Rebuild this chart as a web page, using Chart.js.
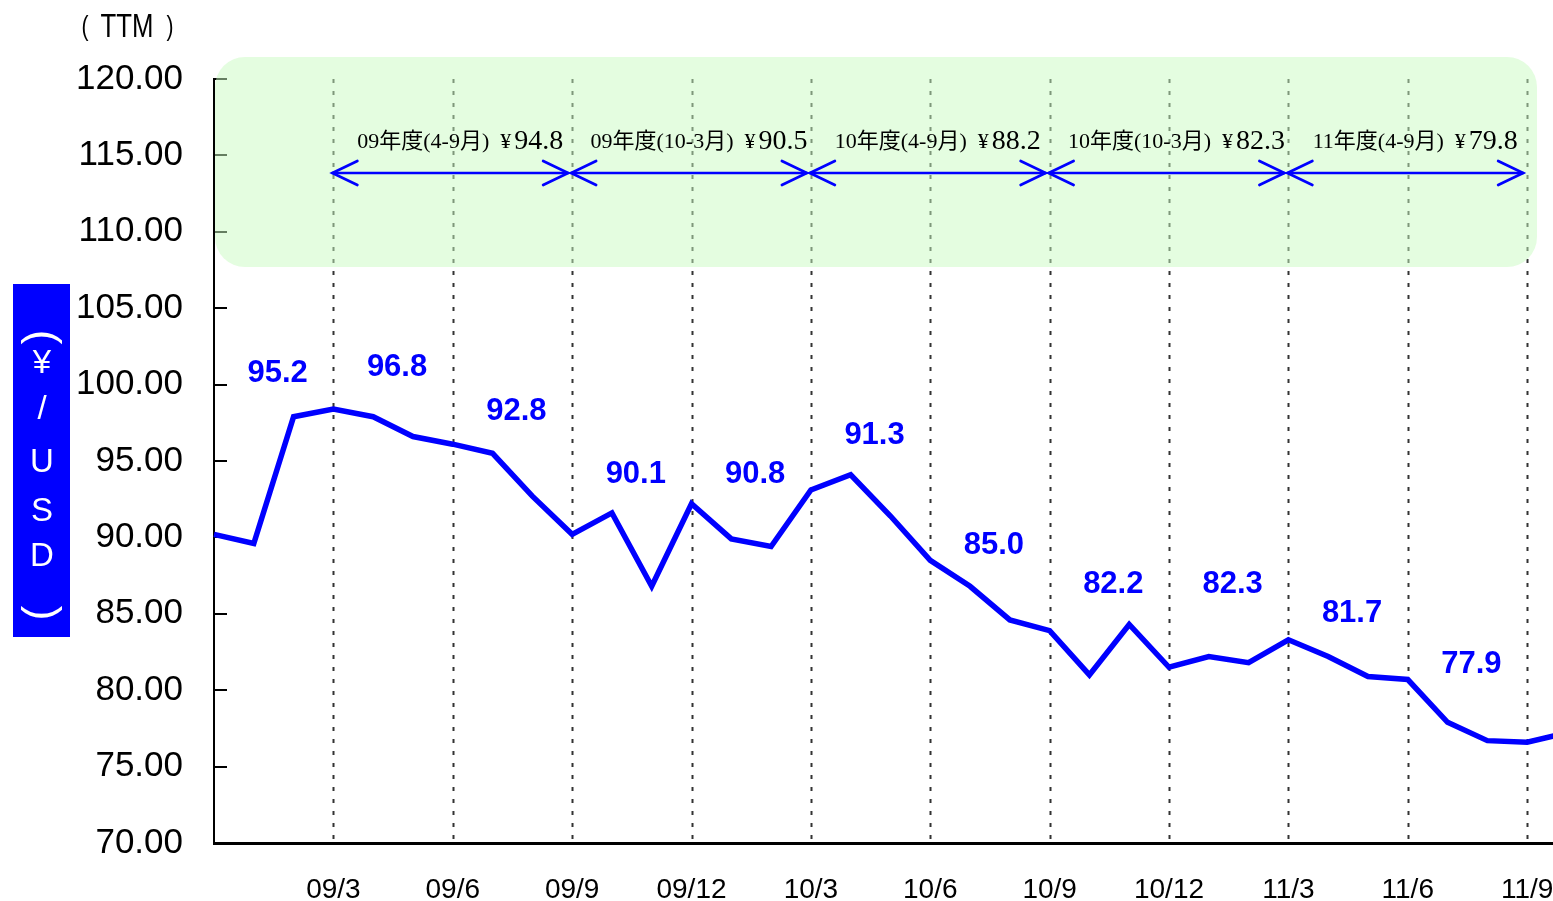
<!DOCTYPE html>
<html><head><meta charset="utf-8">
<script src="https://cdn.jsdelivr.net/npm/chart.js@4.4.0/dist/chart.umd.min.js"></script>
<style>html,body{margin:0;padding:0;background:#fff;overflow:hidden}#wrap{width:1553px;height:901px;position:relative}</style>
</head><body><div id="wrap"><canvas id="c" width="1553" height="901"></canvas></div>
<script>
// ---- data ----
const months = ['08/12','09/1','09/2','09/3','09/4','09/5','09/6','09/7','09/8','09/9','09/10','09/11','09/12',
  '10/1','10/2','10/3','10/4','10/5','10/6','10/7','10/8','10/9','10/10','10/11','10/12',
  '11/1','11/2','11/3','11/4','11/5','11/6','11/7','11/8','11/9','11/10'];
const rates = [90.2,89.6,97.9,98.4,97.9,96.6,96.1,95.5,92.7,90.2,91.6,86.8,92.2,
  89.9,89.4,93.1,94.1,91.4,88.5,86.8,84.6,83.9,81.0,84.3,81.5,
  82.2,81.8,83.3,82.2,80.9,80.7,77.9,76.7,76.6,77.2];
const xTickLabels = ['','09/3','09/6','09/9','09/12','10/3','10/6','10/9','10/12','11/3','11/6','11/9'];
const quarterAverages = ['95.2','96.8','92.8','90.1','90.8','91.3','85.0','82.2','82.3','81.7','77.9'];
const periodNames = ['09年度(4-9月)','09年度(10-3月)','10年度(4-9月)','10年度(10-3月)','11年度(4-9月)'];
const periodAverages = ['94.8','90.5','88.2','82.3','79.8'];
const yTitleChars = ['(','¥','/','U','S','D',')'];
const unitText = ['(','TTM',')'];

// ---- layout (not data) ----
const labelAnchorY = [100.76,101.09,98.27,94.15,94.15,96.7,89.5,86.9,86.9,85.05,81.7];
const periodStart = [3,9,15,21,27];
const periodLen = 6;

const overlay = {
  id:'overlay',
  beforeDatasetsDraw(chart){
    const {ctx, chartArea:a, scales:{x,y}} = chart;
    ctx.save();
    // dotted vertical grid lines
    ctx.strokeStyle = '#333'; ctx.lineWidth = 2; ctx.setLineDash([4,8]);
    for (let i=1;i<xTickLabels.length;i++){
      const px = Math.round(x.getPixelForValue(i*3))+0.5;
      if (px > a.right) continue;
      ctx.beginPath(); ctx.moveTo(px, a.top); ctx.lineTo(px, a.bottom); ctx.stroke();
    }
    ctx.setLineDash([]);
    // inner y ticks
    ctx.strokeStyle = '#000'; ctx.lineWidth = 2;
    y.ticks.forEach(t=>{
      const py = Math.round(y.getPixelForValue(t.value));
      ctx.beginPath(); ctx.moveTo(a.left, py); ctx.lineTo(a.left+13, py); ctx.stroke();
    });
    // green band
    const bx0 = a.left+1, bx1 = 1537, by0 = 57, by1 = 267, r = 30;
    ctx.fillStyle = 'rgba(201,251,193,0.5)';
    ctx.beginPath();
    ctx.roundRect(bx0, by0, bx1-bx0, by1-by0, r);
    ctx.fill();
    // arrows
    const ay = 173;
    ctx.strokeStyle = '#0000ff'; ctx.lineWidth = 2.7; ctx.lineCap='round';
    periodStart.forEach((s,k)=>{
      const x0 = x.getPixelForValue(s)-1, x1 = x.getPixelForValue(s+periodLen)-4;
      ctx.beginPath(); ctx.moveTo(x0, ay); ctx.lineTo(x1, ay); ctx.stroke();
      ctx.beginPath(); ctx.moveTo(x0+25, ay-12); ctx.lineTo(x0, ay); ctx.lineTo(x0+25, ay+12); ctx.stroke();
      ctx.beginPath(); ctx.moveTo(x1-25, ay-12); ctx.lineTo(x1, ay); ctx.lineTo(x1-25, ay+12); ctx.stroke();
      // label
      const f1 = "22px 'Liberation Serif', 'Noto Sans CJK JP'";
      const f2 = "28px 'Liberation Serif'";
      const t1 = periodNames[k] + '  ¥';
      const t2 = periodAverages[k];
      ctx.font = f1; const w1 = ctx.measureText(t1).width;
      ctx.font = f2; const w2 = ctx.measureText(t2).width;
      const cx = (x0+x1)/2 + 10;
      let sx = cx - (w1+w2+3)/2;
      ctx.fillStyle = '#000'; ctx.textBaseline='alphabetic'; ctx.textAlign='left';
      ctx.font = f1; ctx.fillText(t1, sx, 148);
      ctx.font = f2; ctx.fillText(t2, sx+w1+3, 149);
    });
    ctx.restore();
  },
  afterDraw(chart){
    const {ctx, scales:{x,y}} = chart;
    ctx.save();
    // quarter average labels
    ctx.fillStyle = '#0000ff'; ctx.font = "bold 31px 'Liberation Sans'";
    ctx.textAlign = 'center'; ctx.textBaseline = 'middle';
    quarterAverages.forEach((t,q)=>{
      ctx.fillText(t, x.getPixelForValue(q*3+1.6), y.getPixelForValue(labelAnchorY[q]));
    });
    // y title box
    ctx.fillStyle = '#0000ff';
    ctx.fillRect(13, 284, 57, 353);
    ctx.fillStyle = '#fff';
    const ys = [337,364,410,463,512,557,613];
    yTitleChars.forEach((ch,i)=>{
      ctx.save();
      ctx.translate(42, ys[i]);
      if (ch==='(' || ch===')'){ ctx.rotate(Math.PI/2); ctx.font = "44px 'Liberation Sans'"; }
      else ctx.font = "33px 'Liberation Sans'";
      ctx.textAlign='center'; ctx.textBaseline='middle';
      ctx.fillText(ch, 0, 0);
      ctx.restore();
    });
    // unit text (TTM)
    ctx.fillStyle = '#000'; ctx.textBaseline='middle'; ctx.textAlign='center';
    ctx.save(); ctx.translate(127, 28); ctx.scale(0.78,1);
    ctx.font = "33px 'Liberation Sans'"; ctx.fillText(unitText[1], 0, 0);
    ctx.font = "27px 'Liberation Sans'";
    ctx.fillText(unitText[0], -42/0.78, 0);
    ctx.fillText(unitText[2], 43/0.78, 0);
    ctx.restore();
    ctx.restore();
  }
};

new Chart(document.getElementById('c').getContext('2d'), {
  type:'line',
  data:{ datasets:[{
    data: rates.map((v,i)=>({x:i, y:v})),
    borderColor:'#0000ff', borderWidth:5.5, pointRadius:0, tension:0,
    borderJoinStyle:'miter', clip:false, fill:false
  }]},
  options:{
    responsive:false, animation:false,
    layout:{padding:{top:79,left:0,right:0,bottom:0}},
    plugins:{legend:{display:false}, tooltip:{enabled:false}},
    scales:{
      x:{
        type:'linear', min:0, max:33.65,
        afterBuildTicks:(s)=>{ s.ticks = xTickLabels.map((_,i)=>({value:i*3})); },
        ticks:{ callback:(v)=> xTickLabels[Math.round(v/3)] ?? '', autoSkip:false, maxRotation:0,
          font:{family:'Liberation Sans', size:28}, color:'#000', padding:30 },
        grid:{display:false, drawTicks:false},
        border:{display:true, color:'#000', width:3},
        afterFit:(s)=>{ s.height = 58; s.paddingLeft = 0; s.paddingRight = 0; }
      },
      y:{
        min:70, max:120,
        ticks:{ stepSize:5, callback:(v)=> Number(v).toFixed(2),
          font:{family:'Liberation Sans', size:35}, color:'#000', padding:31 },
        grid:{display:false, drawTicks:false},
        border:{display:true, color:'#000', width:2},
        afterFit:(s)=>{ s.width = 214; s.paddingTop = 0; s.paddingBottom = 0; }
      }
    }
  },
  plugins:[overlay]
});
</script></body></html>
